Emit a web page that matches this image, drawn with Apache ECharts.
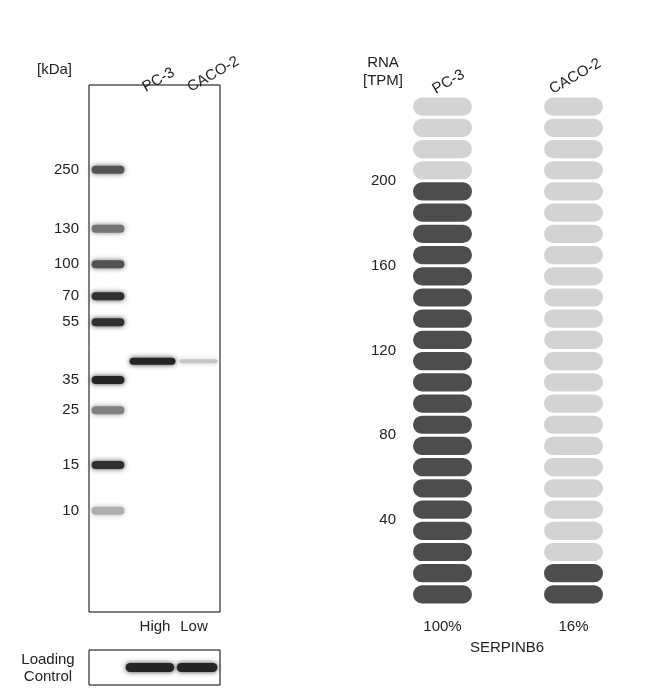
<!DOCTYPE html>
<html><head><meta charset="utf-8">
<script src="https://cdn.jsdelivr.net/npm/echarts@6/dist/echarts.min.js"></script>
<style>html,body{margin:0;background:#fff}#c{width:668px;height:689px}</style>
</head><body><div id="c"></div>
<script>
// ---- data ----
const lanes = ['PC-3', 'CACO-2'];
const markerKDa = [250, 130, 100, 70, 55, 35, 25, 15, 10];
const markerPos = [16.1, 27.3, 34.0, 40.1, 45.0, 56.0, 61.7, 72.1, 80.8]; // migration % of blot height
const markerInt = [0.75, 0.6, 0.75, 0.9, 0.9, 0.95, 0.55, 0.9, 0.35];
const samplePos = [52.4, 52.4];
const sampleInt = [0.95, 0.25];
const levelLabels = ['High', 'Low'];
const loadingInt = [0.95, 0.95];
const rnaTPM = [200, 20];
const rnaPct = ['100%', '16%'];
const rnaTicks = [40, 80, 120, 160, 200];
const gene = 'SERPINB6';
const pillStep = 10, pillCount = 24;

const font = 'Liberation Sans, Arial, sans-serif';
const txt = '#222';
const chart = echarts.init(document.getElementById('c'));

function band(api, x0, x1, y, inten, h) {
  const p0 = api.coord([x0, y]), p1 = api.coord([x1, y]);
  const g = Math.round(255 - 230 * inten);
  return {type: 'rect', shape: {x: p0[0], y: p0[1] - h / 2, width: p1[0] - p0[0], height: h, r: h / 2},
    style: {fill: `rgb(${g},${g},${g})`, shadowBlur: 5, shadowColor: `rgba(${g},${g},${g},0.9)`}};
}

chart.setOption({
  animation: false,
  grid: [
    {left: 89, top: 85, width: 131, height: 527, show: true, borderColor: '#000', borderWidth: 1, backgroundColor: '#fff'},
    {left: 89, top: 650, width: 131, height: 35, show: true, borderColor: '#000', borderWidth: 1, backgroundColor: '#fff'},
    {left: 377, top: 96, width: 262, height: 509}
  ],
  xAxis: [
    {gridIndex: 0, type: 'value', min: 0, max: 100, show: false},
    {gridIndex: 1, type: 'value', min: 0, max: 100, show: false},
    {gridIndex: 2, type: 'category', data: lanes, show: false}
  ],
  yAxis: [
    {gridIndex: 0, type: 'value', min: 0, max: 100, inverse: true, show: false},
    {gridIndex: 1, type: 'value', min: 0, max: 100, show: false},
    {gridIndex: 2, type: 'value', min: 0, max: pillCount * pillStep, interval: 40, offset: -25,
      axisLine: {show: false}, axisTick: {show: false}, splitLine: {show: false},
      axisLabel: {color: txt, fontSize: 15, fontFamily: font, margin: 6,
        formatter: v => rnaTicks.includes(v) ? String(v) : ''}}
  ],
  series: [
    {type: 'custom', xAxisIndex: 0, yAxisIndex: 0, clip: false,
      data: markerKDa.map((k, i) => [k, markerPos[i], markerInt[i]]),
      renderItem: (p, api) => {
        const y = api.value(1), b = band(api, 2, 27, y, api.value(2), 8);
        const lp = api.coord([0, y]);
        return {type: 'group', children: [b,
          {type: 'text', x: lp[0] - 10, y: lp[1], style: {text: String(api.value(0)), align: 'right', verticalAlign: 'middle', fill: txt, font: '15px ' + font}}]};
      }},
    {type: 'custom', xAxisIndex: 0, yAxisIndex: 0,
      data: lanes.map((l, i) => [i, samplePos[i], sampleInt[i]]),
      renderItem: (p, api) => {
        const i = api.value(0);
        return band(api, i ? 69 : 31, i ? 98 : 66, api.value(1), api.value(2), i ? 4 : 7);
      }},
    {type: 'custom', xAxisIndex: 1, yAxisIndex: 1,
      data: lanes.map((l, i) => [i, 50, loadingInt[i]]),
      renderItem: (p, api) => {
        const i = api.value(0);
        return band(api, i ? 67 : 28, i ? 98 : 65, 50, api.value(2), 9);
      }},
    {type: 'custom', xAxisIndex: 2, yAxisIndex: 2, clip: false,
      data: lanes.map((l, i) => [i, rnaTPM[i]]),
      renderItem: (p, api) => {
        const c = api.value(0), v = api.value(1), kids = [];
        const nDark = Math.round(v / pillStep);
        for (let k = 0; k < pillCount; k++) {
          const a = api.coord([c, k * pillStep]), b = api.coord([c, (k + 1) * pillStep]);
          const h = a[1] - b[1];
          kids.push({type: 'rect', shape: {x: a[0] - 29.5, y: b[1] + 1.5, width: 59, height: h - 3, r: (h - 3) / 2},
            style: {fill: k < nDark ? '#4d4d4d' : '#d3d3d3'}});
        }
        const base = api.coord([c, 0]);
        kids.push({type: 'text', x: base[0], y: base[1] + 22, style: {text: rnaPct[c], align: 'center', verticalAlign: 'middle', fill: txt, font: '15px ' + font}});
        return {type: 'group', children: kids};
      }}
  ],
  graphic: [
    {type: 'text', left: 37, top: 62, style: {text: '[kDa]', fill: txt, font: '15px ' + font}},
    {type: 'text', x: 140, y: 82, rotation: Math.PI / 6, style: {text: lanes[0], fill: txt, font: '15px ' + font}},
    {type: 'text', x: 185, y: 82, rotation: Math.PI / 6, style: {text: lanes[1], fill: txt, font: '15px ' + font}},
    {type: 'text', x: 155, y: 627, style: {text: levelLabels[0], align: 'center', verticalAlign: 'middle', fill: txt, font: '15px ' + font}},
    {type: 'text', x: 194, y: 627, style: {text: levelLabels[1], align: 'center', verticalAlign: 'middle', fill: txt, font: '15px ' + font}},
    {type: 'text', x: 48, y: 668, style: {text: 'Loading\nControl', align: 'center', verticalAlign: 'middle', lineHeight: 17, fill: txt, font: '15px ' + font}},
    {type: 'text', x: 383, y: 72, style: {text: 'RNA\n[TPM]', align: 'center', verticalAlign: 'middle', lineHeight: 18, fill: txt, font: '15px ' + font}},
    {type: 'text', x: 430, y: 84, rotation: Math.PI / 6, style: {text: lanes[0], fill: txt, font: '15px ' + font}},
    {type: 'text', x: 547, y: 84, rotation: Math.PI / 6, style: {text: lanes[1], fill: txt, font: '15px ' + font}},
    {type: 'text', x: 507, y: 648, style: {text: gene, align: 'center', verticalAlign: 'middle', fill: txt, font: '15px ' + font}}
  ]
});
</script></body></html>
